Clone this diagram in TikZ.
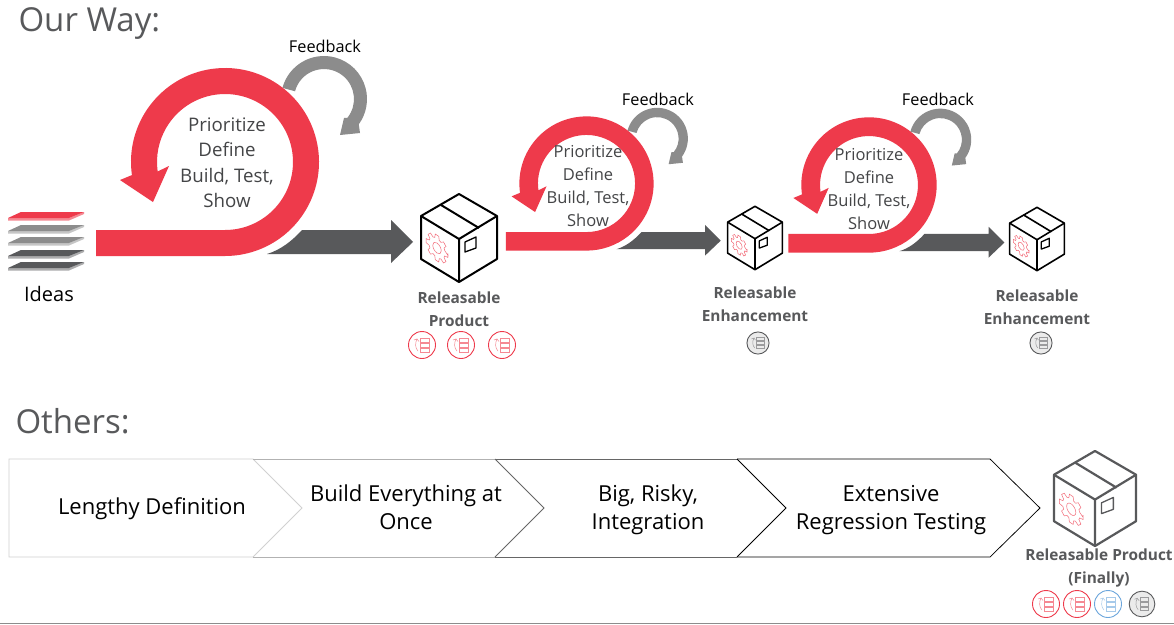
\documentclass[tikz,border=0pt]{standalone}
\usepackage{fontspec}
\setmainfont{Open Sans}
\usepackage{xcolor}
\usetikzlibrary{positioning}
\definecolor{loopred}{HTML}{EE3A4B}
\definecolor{slate}{HTML}{58595B}
\definecolor{midgray}{HTML}{8C8C8C}
\definecolor{textgray}{HTML}{444547}
\definecolor{ticketblue}{HTML}{6CA6DC}
\tikzstyle{heading} = [text=slate, font=\fontsize{33}{38}\selectfont, anchor=west]
\tikzstyle{feedback} = [text=black, font=\fontsize{16.3}{20}\selectfont]
\tikzstyle{bigloop} = [text=textgray, align=center, font=\fontsize{18.7}{25.5}\selectfont]
\tikzstyle{smallloop} = [text=textgray, align=center, font=\fontsize{16.5}{22.7}\selectfont]
\tikzstyle{release} = [text=slate, align=center, font=\bfseries\fontsize{15.4}{23}\selectfont]
\tikzstyle{stage} = [text=black, align=center, font=\fontsize{22}{28}\selectfont]
\tikzset{
	pics/redloop/.style={code={
		\fill[midgray] (99,-63) ++(195:43) arc[start angle=195, end angle=396, radius=43] -- (135,-29) -- (115,-27) -- (119,-44) -- (122.3,-44.1) arc[start angle=399, end angle=195, radius=30] -- cycle;
		\fill[slate] (42,92) .. controls (55,88) and (66,80) .. (77,68) -- (166,68) -- (166,58) -- (188,80) -- (166,101) -- (166,92) -- cycle;
		\fill[loopred] (#1,68) -- (0,68) arc[start angle=90, end angle=-188, radius=68] -- (-56,4) -- (-72,40) -- (-105,18) -- (-188:94) arc[start angle=-188, end angle=90, radius=94] -- (#1,94) -- cycle;
	}},
	pics/crate/.style={code={
		\draw[line join=round] (0,-44) -- (-38,-22) -- (-38,21) -- (0,44) -- (38,21) -- (38,-22) -- cycle;
		\draw[line join=round] (-38,-22) -- (0,1) -- (38,-22) (0,1) -- (0,44);
		\draw (-18,-33) -- (20,-10);
		\draw[line width=1.3pt, line join=round] (6,4) -- (17,-1) -- (17,10) -- (6,14) -- cycle;
		\begin{scope}[shift={(-22,10)}, xscale=.85, yslant=-.58]
			\draw[loopred!75, line width=.5pt] (0:13) \foreach \a in {0,45,...,315} { -- (\a-9:13) -- (\a+9:13) -- (\a+16:9.5) -- (\a+29:9.5)} -- cycle;
			\draw[loopred!75, line width=.5pt] (0,0) circle (5);
		\end{scope}
	}},
	pics/ticket/.style={code={
		\draw[#1, line width=.9pt] (0,0) circle (13.5);
		\draw[#1!60, line width=.5pt] (-2,-7) rectangle (7,-3) (-2,-2) rectangle (7,2) (-2,3) rectangle (7,7);
		\draw[#1!60, line width=.5pt] (-4,6) .. controls (-7,3) and (-7,-2) .. (-5,-6) -- (-8,-5) (-5,-6) -- (-3,-3.5);
	}}
}
\begin{document}
\begin{tikzpicture}[x=1pt, y=-1pt, on grid]
\useasboundingbox (0,0) rectangle (1174,624);
\fill[white] (0,0) rectangle (1174,624);
\coordinate (loopa) at (225,162);
\coordinate (loopb) at (586.5,183.5);
\coordinate (loopc) at (869,185);
\coordinate (cratea) at (459,238);
\coordinate (crateb) at (755,238);
\coordinate (cratec) at (1037,239);
\coordinate (crated) at (1095,498.5);
\node(ourway)[heading] at (15,23) {Our Way:};
\node(others)[heading] at (12,421) {Others:};
\foreach \y/\c/\b in {212/loopred/loopred!60,225/midgray/midgray!50,237/midgray/midgray!50,250/slate/slate!50,262/slate/slate!50}{
	\fill[\b] (8,\y+6) -- (69,\y+6) -- (84,\y) -- (84,\y+2) -- (69,\y+8.5) -- (8,\y+8.5) -- cycle;
	\fill[\c] (8,\y+6) -- (21,\y) -- (84,\y) -- (69,\y+6) -- cycle;
}
\node(ideas)[text=black, font=\fontsize{20}{24}\selectfont] at (49,294) {Ideas};
\pic at (loopa) {redloop=-129};
\pic[scale=.714] at (loopb) {redloop=-113};
\pic[scale=.72] at (loopc) {redloop=-112};
\node(feeda)[feedback] at (325,46) {Feedback};
\node(feedb)[feedback] at (658,99) {Feedback};
\node(feedc)[feedback] at (938,99) {Feedback};
\node(texta)[bigloop] at (227,162.5) {Prioritize\\Define\\Build, Test,\\Show};
\node(textb)[smallloop] at (588,186) {Prioritize\\Define\\Build, Test,\\Show};
\node(textc)[smallloop] at (869,189) {Prioritize\\Define\\Build, Test,\\Show};
\pic[line width=2pt] at (cratea) {crate};
\pic[scale=.72, line width=1.6pt] at (crateb) {crate};
\pic[scale=.72, line width=1.6pt] at (cratec) {crate};
\pic[scale=1.08, line width=2.2pt, color=slate] at (crated) {crate};
\node(relprod)[release, below=50pt of cratea] {Releasable\\Product};
\node(relenha)[release, below=45.5pt of crateb] {Releasable\\Enhancement};
\node(relenhb)[release, below=47.5pt of cratec] {Releasable\\Enhancement};
\node(relfin)[release, below=47pt of crated, xshift=4pt] {Releasable Product\\(Finally)};
\foreach \x in {422,461,502}
	\pic at (\x,345) {ticket=loopred};
\foreach \x/\y/\s in {758/343/.82,1041/343/.82,1142/604/.95}{
	\fill[slate!12] (\x,\y) circle (13.5*\s);
	\pic[scale=\s] at (\x,\y) {ticket=slate};
}
\pic at (1046,604) {ticket=loopred};
\pic at (1077,604) {ticket=loopred};
\pic at (1108,604) {ticket=ticketblue};
\draw[black!18, line width=.75pt] (253,459) -- (9,459) -- (9,557) -- (253,557) -- (302,508) -- cycle;
\draw[black!30, line width=.75pt] (253,459) -- (495,459) (253,557) -- (495,557);
\draw[black!60, line width=.75pt] (495,459) -- (544,508) -- (495,557);
\draw[black!60, line width=.75pt] (495,459) -- (737,459) (495,557) -- (737,557);
\draw[black, line width=.75pt] (737,459) -- (786,508) -- (737,557);
\draw[black, line width=.75pt] (737,459) -- (990,459) -- (1040,508) -- (990,557) -- (737,557);
\node(stagea)[stage] at (152,508.5) {Lengthy Definition};
\node(stageb)[stage] at (406,507) {Build Everything at\\Once};
\node(stagec)[stage] at (648,510) {Big, Risky,\\Integration};
\node(staged)[stage] at (891,510) {Extensive\\Regression Testing};
\coordinate (rulea) at (0,623.5);
\coordinate (ruleb) at (1174,623.5);
\draw[black!45] (rulea) -- (ruleb);
\end{tikzpicture}
\end{document}
